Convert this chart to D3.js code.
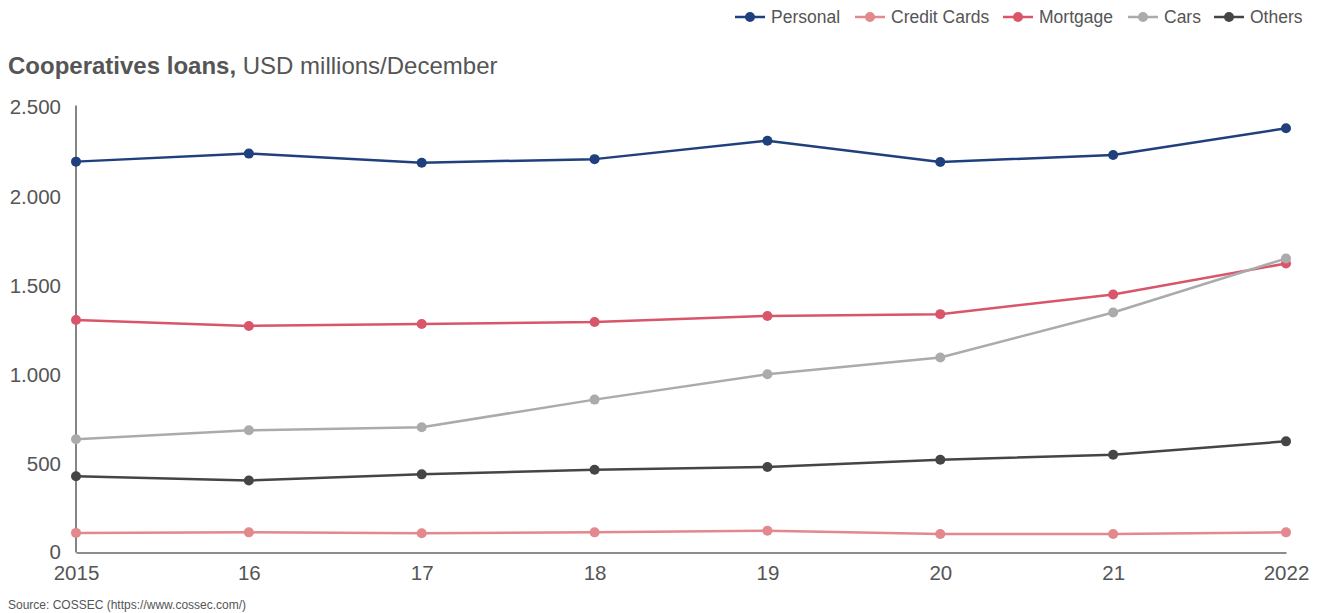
<!DOCTYPE html>
<html><head><meta charset="utf-8">
<script src="https://cdn.jsdelivr.net/npm/d3@7"></script>
<style>
html,body{margin:0;padding:0;background:#fff;}
svg{display:block;font-family:"Liberation Sans",Arial,Helvetica,sans-serif;}
</style></head>
<body><svg id="chart" width="1322" height="613"></svg>
<script>
const years = ["2015","16","17","18","19","20","21","2022"];
const seriesNames = ["Personal","Credit Cards","Mortgage","Cars","Others"];
const personal    = [2191, 2236, 2185, 2205, 2308, 2189, 2228, 2378];
const creditCards = [110, 113, 108, 113, 122, 104, 104, 113];
const mortgage    = [1303, 1270, 1281, 1292, 1326, 1336, 1446, 1620];
const cars        = [635, 685, 702, 857, 999, 1093, 1345, 1648];
const others      = [427, 404, 438, 464, 479, 520, 548, 623];
const yTicks = [0, 500, 1000, 1500, 2000, 2500];
const colors = ["#1f3f7d", "#e3888c", "#d95569", "#ababab", "#454545"];

const data = [personal, creditCards, mortgage, cars, others];

const svg = d3.select("#chart");
const x = d3.scalePoint().domain(years).range([76, 1286]);
const y = d3.scaleLinear().domain([0, 2500]).range([552.5, 106.5]);

// Title
const title = svg.append("text").attr("x", 8).attr("y", 74)
  .attr("font-size", "24px").attr("fill", "#555");
title.append("tspan").attr("font-weight", "bold").text("Cooperatives loans,");
title.append("tspan").text(" USD millions/December");

// Y axis
const yAxis = svg.append("g").attr("transform", "translate(76,0)")
  .call(d3.axisLeft(y).tickValues(yTicks).tickSize(0).tickPadding(15)
    .tickFormat(d => d3.format(",")(d).replace(/,/g, ".")));
yAxis.select(".domain").attr("stroke", "#666").attr("stroke-width", 1.6)
  .attr("d", `M0,${y(2500)-1}V${y(0)}`);
yAxis.selectAll("text").attr("font-size", "20.5px").attr("fill", "#555")
  .attr("font-family", "Liberation Sans, Arial, sans-serif")
  .attr("dy", d => d === 0 ? "0.28em" : "0.36em");

// X axis
const xAxis = svg.append("g").attr("transform", `translate(0,${y(0)})`)
  .call(d3.axisBottom(x).tickSize(0).tickPadding(13));
xAxis.select(".domain").attr("stroke", "#666").attr("stroke-width", 1.6);
xAxis.selectAll("text").attr("font-size", "20.5px").attr("fill", "#555")
  .attr("font-family", "Liberation Sans, Arial, sans-serif");

// Lines
const line = d3.line().x((d, i) => x(years[i])).y(d => y(d));
data.forEach((vals, si) => {
  const g = svg.append("g");
  g.append("path").datum(vals).attr("d", line).attr("fill", "none")
    .attr("stroke", colors[si]).attr("stroke-width", 2.5).attr("stroke-linejoin", "round");
  g.selectAll("circle").data(vals).join("circle")
    .attr("cx", (d, i) => x(years[i])).attr("cy", d => y(d)).attr("r", 5)
    .attr("fill", colors[si]);
});

// Legend
const legendX = [735, 855, 1003, 1128, 1214];
const leg = svg.append("g");
seriesNames.forEach((name, i) => {
  const lx = legendX[i];
  leg.append("line").attr("x1", lx).attr("x2", lx + 30).attr("y1", 17).attr("y2", 17)
    .attr("stroke", colors[i]).attr("stroke-width", 2.5);
  leg.append("circle").attr("cx", lx + 15).attr("cy", 17).attr("r", 5).attr("fill", colors[i]);
  leg.append("text").attr("x", lx + 36).attr("y", 23).attr("font-size", "17.5px")
    .attr("fill", "#555").text(name);
});

// Source
svg.append("text").attr("x", 8).attr("y", 609).attr("font-size", "12px")
  .attr("fill", "#555").text("Source: COSSEC (https://www.cossec.com/)");
</script></body></html>
